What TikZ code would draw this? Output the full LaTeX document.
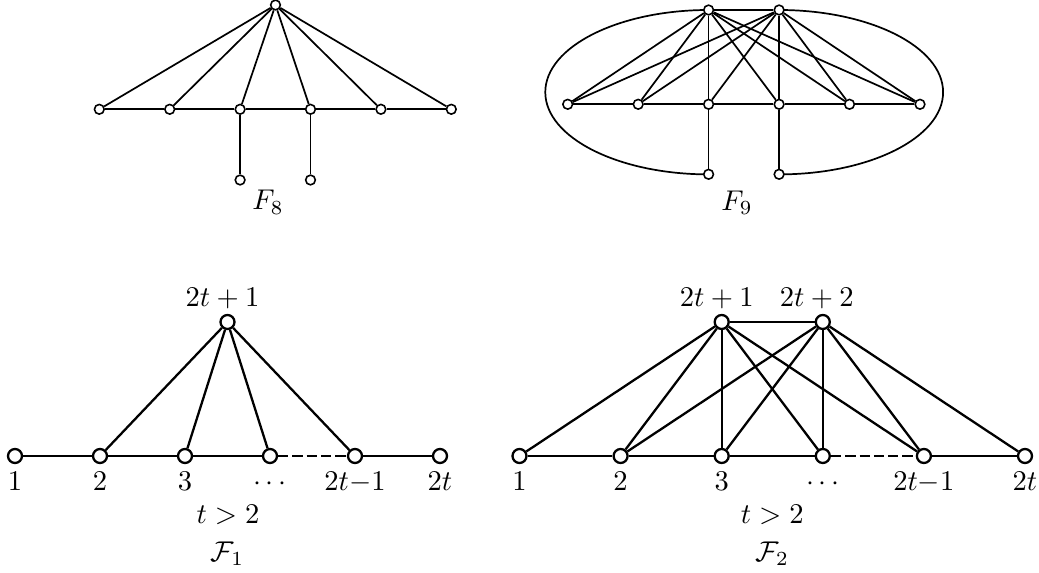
\documentclass[tikz,border=0pt]{standalone}
\usetikzlibrary{backgrounds}
\begin{document}
\begin{tikzpicture}[x=0.35pt,y=-0.35pt,
  sv/.style={circle,draw,fill=white,inner sep=0pt,minimum size=3.4pt,line width=0.55pt},
  bv/.style={circle,draw,fill=white,inner sep=0pt,minimum size=4.9pt,line width=0.8pt},
  se/.style={line width=0.6pt},
  be/.style={line width=0.8pt},
  lbl/.style={anchor=base,inner sep=0pt,font=\fontsize{10.4}{12}\selectfont},
  dsh/.style={be,dash pattern=on 3.6pt off 1.4pt}]
\useasboundingbox (0,0) rectangle (1039,573);

% ---------- F8 ----------
\node[sv] (t8) at (275.5,5) {};
\foreach \i/\x in {1/99.3,2/169.7,3/240.1,4/310.5,5/380.9,6/451.3}
  \node[sv] (a\i) at (\x,109.3) {};
\node[sv] (p81) at (240.1,180) {};
\node[sv] (p82) at (310.5,180) {};
\foreach \i in {1,...,6} \draw[se] (t8) -- (a\i);
\draw[se] (a1) -- (a2) -- (a3) -- (a4) -- (a5) -- (a6);
\draw[se] (a3) -- (p81);
\draw[se] (a4) -- (p82);
\node[lbl] (l8) at (268,210) {$F_8$};

% ---------- F9 ----------
\node[sv] (A9) at (708.6,10) {};
\node[sv] (B9) at (779.1,10) {};
\foreach \i/\x in {1/567.7,2/638.2,3/708.6,4/779.1,5/849.5,6/920}
  \node[sv] (b\i) at (\x,104.3) {};
\node[sv] (p91) at (708.6,174.3) {};
\node[sv] (p92) at (779.1,174.3) {};
\draw[se] (A9) -- (B9);
\foreach \i in {1,...,6} {\draw[se] (A9) -- (b\i); \draw[se] (B9) -- (b\i);}
\draw[se] (b1) -- (b2) -- (b3) -- (b4) -- (b5) -- (b6);
\draw[se] (b3) -- (p91);
\draw[se] (b4) -- (p92);
\begin{pgfonlayer}{background}
\draw[se] (A9.center) arc[start angle=90,end angle=270,x radius=57.16pt,y radius=28.77pt];
\draw[se] (B9.center) arc[start angle=90,end angle=-90,x radius=57.4pt,y radius=28.77pt];
\end{pgfonlayer}
\node[lbl] (l9) at (737,210.5) {$F_9$};

% ---------- F1 ----------
\node[bv] (T1) at (227.5,322) {};
\foreach \i/\x in {1/15,2/100,3/185,4/270,5/355,6/440}
  \node[bv] (c\i) at (\x,456) {};
\foreach \i in {2,...,5} \draw[be] (T1) -- (c\i);
\draw[be] (c1) -- (c2) -- (c3) -- (c4);
\draw[dsh] (c4) -- (c5);
\draw[be] (c5) -- (c6);
\node[lbl] (lt1) at (222.5,306.7) {$2t+1$};
\node[lbl] (lc1) at (15,490.5) {$1$};
\node[lbl] (lc2) at (100,490.5) {$2$};
\node[lbl] (lc3) at (185,490.5) {$3$};
\node[lbl] (lc4) at (270,490.5) {$\cdots$};
\node[lbl] (lc5) at (355,490.5) {$2t{-}1$};
\node[lbl] (lc6) at (440,490.5) {$2t$};
\node[lbl] (lcond1) at (228,523.3) {$t>2$};
\node[lbl] (lF1) at (227.5,561.7) {$\mathcal{F}_1$};

% ---------- F2 ----------
\node[bv] (A2) at (721.7,322) {};
\node[bv] (B2) at (822.8,322) {};
\foreach \i/\x in {1/519.5,2/620.6,3/721.7,4/822.8,5/923.9,6/1025}
  \node[bv] (d\i) at (\x,456) {};
\draw[be] (A2) -- (B2);
\foreach \i in {1,...,5} \draw[be] (A2) -- (d\i);
\foreach \i in {2,...,6} \draw[be] (B2) -- (d\i);
\draw[be] (d1) -- (d2) -- (d3) -- (d4);
\draw[dsh] (d4) -- (d5);
\draw[be] (d5) -- (d6);
\node[lbl] (la2) at (716.7,306.7) {$2t+1$};
\node[lbl] (lb2) at (816.7,306.7) {$2t+2$};
\node[lbl] (ld1) at (519.5,490.5) {$1$};
\node[lbl] (ld2) at (620.6,490.5) {$2$};
\node[lbl] (ld3) at (721.7,490.5) {$3$};
\node[lbl] (ld4) at (822.8,490.5) {$\cdots$};
\node[lbl] (ld5) at (923.9,490.5) {$2t{-}1$};
\node[lbl] (ld6) at (1025,490.5) {$2t$};
\node[lbl] (lcond2) at (772.2,523.3) {$t>2$};
\node[lbl] (lF2) at (772.2,561.7) {$\mathcal{F}_2$};
\end{tikzpicture}
\end{document}
